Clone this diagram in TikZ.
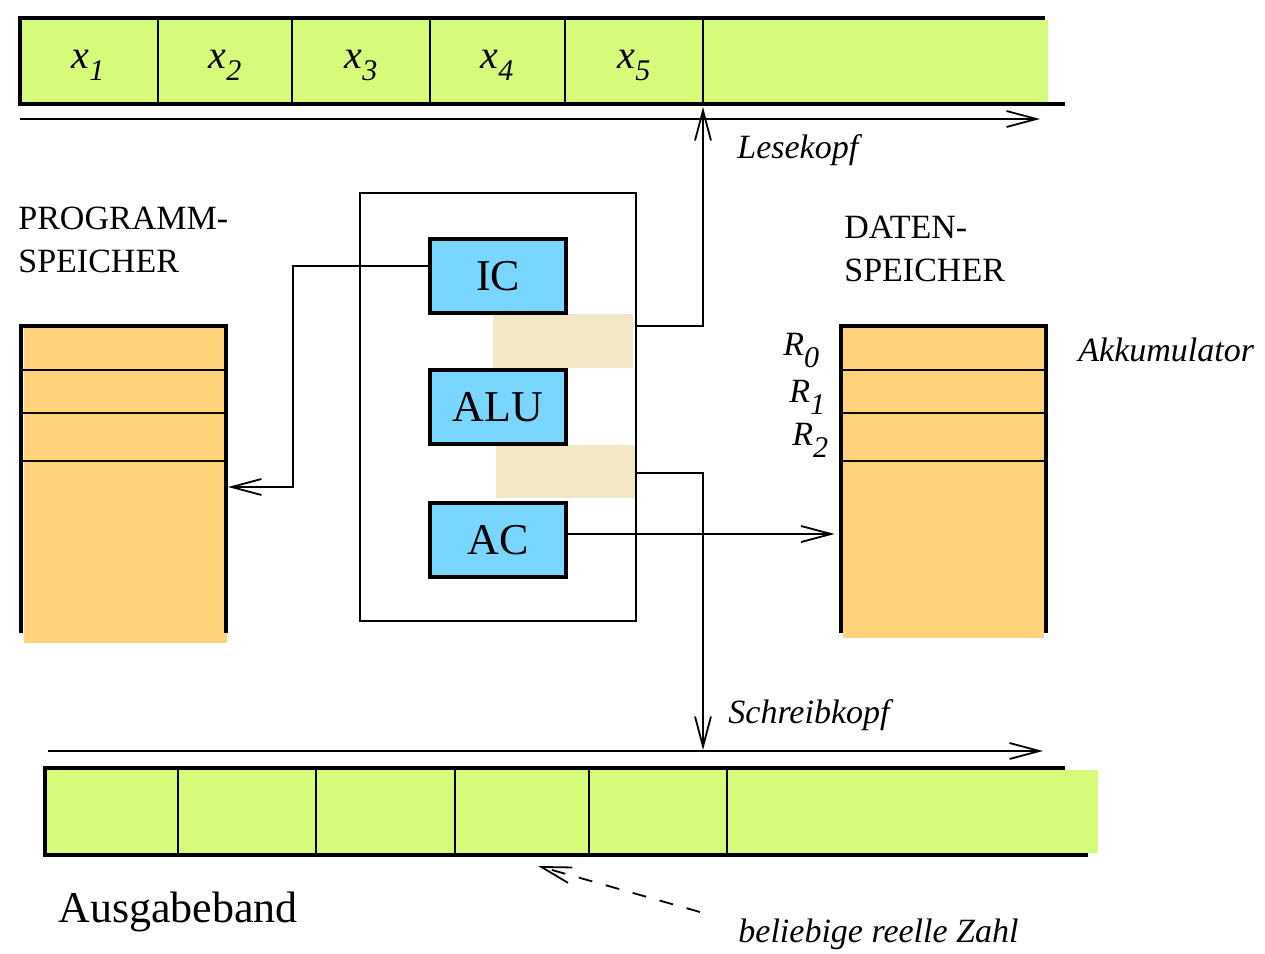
\documentclass[tikz,border=0pt]{standalone}
\usepackage{fontspec}
\setmainfont{Liberation Serif}
\usetikzlibrary{arrows.meta,positioning}
\definecolor{tapegreen}{RGB}{214,251,122}
\definecolor{regblue}{RGB}{120,214,255}
\definecolor{memorange}{RGB}{255,211,122}
\definecolor{patchbeige}{RGB}{243,232,198}
\newcommand{\sublab}[2]{\textit{#1}\raisebox{-6pt}{\fontsize{15}{15}\selectfont\textit{#2}}}

\begin{document}
\begin{tikzpicture}[x=0.5pt,y=-0.5pt,
    band/.style={line width=2pt},
    thinln/.style={line width=0.9pt},
    reg/.style={rectangle,draw,line width=2pt,fill=regblue,minimum width=68pt,minimum height=37pt,
                inner sep=0pt,font=\fontsize{22}{22}\selectfont},
    mem/.style={minimum width=102.5pt,minimum height=153.5pt,inner sep=0pt},
    ar/.style={-{Straight Barb[length=15pt,width=8pt]},thinln},
    lab/.style={inner sep=0pt,font=\fontsize{17}{20}\selectfont\itshape},
    memlab/.style={inner sep=0pt,align=left,font=\fontsize{17}{21.5}\selectfont}]
    \useasboundingbox (0,0) rectangle (1265,954);
    % Eingabeband
    \fill[tapegreen] (20,20) rectangle (1048,102);
    \draw[band] (1045,18) -- (20,18) -- (20,104) -- (1065,104);
    \foreach \xd in {158,292,430,565,703} \draw[thinln] (\xd,18) -- (\xd,104);
    \foreach \xc/\k in {88/1,225/2,361/3,497/4,634/5}
      \node[anchor=base,inner sep=0pt,font=\fontsize{20}{20}\selectfont] (x\k) at (\xc,68) {\sublab{x}{\k}};
    \draw[ar] (20,119) -- (1040,119);
    \node[lab,anchor=base west] (lesek) at (737,158) {Lesekopf};
    % Rechenwerk
    \node[draw,thinln,minimum width=138pt,minimum height=214pt] (cpu) at (498,407) {};
    \fill[patchbeige] (493,314) rectangle (633,368);
    \fill[patchbeige] (496,445) rectangle (635,498);
    \node[reg] (ic) at (498,276) {IC};
    \node[reg] (alu) at (498,407) {ALU};
    \node[reg] (ac) at (498,540) {AC};
    % Programmspeicher
    \node[memlab,anchor=north west] (pmlab) at (18,207) {PROGRAMM-\\SPEICHER};
    \node[mem] (pm) at (123.5,479.5) {};
    \fill[memorange] (24,328) rectangle (227,643);
    \foreach \yd in {370,413,461} \draw[thinln] (21,\yd) -- (226,\yd);
    \draw[band] (pm.south west) -- (pm.north west) -- (pm.north east) -- (pm.south east);
    % Datenspeicher
    \node[memlab,anchor=north west] (dmlab) at (844,216) {DATEN-\\SPEICHER};
    \node[mem] (dm) at (943.5,479.5) {};
    \fill[memorange] (843,328) rectangle (1044,638);
    \foreach \yd in {370,413,461} \draw[thinln] (841,\yd) -- (1046,\yd);
    \draw[band] (dm.south west) -- (dm.north west) -- (dm.north east) -- (dm.south east);
    \node[anchor=base west,inner sep=0pt,font=\fontsize{17}{17}\selectfont] (r0) at (783,355) {\sublab{R}{0}};
    \node[anchor=base west,inner sep=0pt,font=\fontsize{17}{17}\selectfont] (r1) at (789,402) {\sublab{R}{1}};
    \node[anchor=base west,inner sep=0pt,font=\fontsize{17}{17}\selectfont] (r2) at (792,445) {\sublab{R}{2}};
    \node[lab,anchor=base west] (akku) at (1078,361) {Akkumulator};
    % Ausgabeband
    \fill[tapegreen] (45,770) rectangle (1098,853);
    \draw[band] (1065,768) -- (45,768) -- (45,855) -- (1088,855);
    \foreach \xd in {178,316,455,589,727} \draw[thinln] (\xd,768) -- (\xd,855);
    \draw[ar] (48,751) -- (1043,751);
    \node[lab,anchor=base west] (schreibk) at (728,723) {Schreibkopf};
    \node[anchor=base west,inner sep=0pt,font=\fontsize{22}{22}\selectfont] (ausg) at (58,922) {Ausgabeband};
    \node[lab,anchor=base west] (zahl) at (738,942) {beliebige reelle Zahl};
    % Verbindungen
    \coordinate (icout) at (430,266);
    \coordinate (acout) at (566,534);
    \coordinate (pmin) at (228,487);
    \coordinate (rdout) at (636,326);
    \coordinate (lk) at (703,107);
    \coordinate (wrout) at (636,473);
    \coordinate (sk) at (703,750);
    \coordinate (zstart) at (700,912);
    \coordinate (zend) at (538,866);
    \draw[ar] (icout) -| (293,487) -- (pmin);
    \draw[ar] (rdout) -| (lk);
    \draw[ar] (wrout) -| (sk);
    \draw[ar,shorten >=3pt] (acout) -- (dm.west |- acout);
    \draw[ar,dash pattern=on 7pt off 7pt] (zstart) -- (zend);
\end{tikzpicture}
\end{document}
